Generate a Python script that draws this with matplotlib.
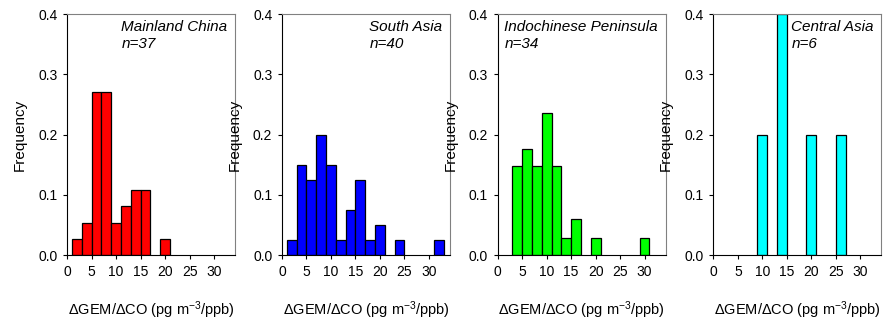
import numpy as np
import matplotlib
matplotlib.use('Agg')
import matplotlib.pyplot as plt
from matplotlib.ticker import FormatStrFormatter

plt.rcParams['font.family'] = ['Liberation Sans', 'DejaVu Sans']
plt.rcParams['font.size'] = 10
plt.rcParams['mathtext.default'] = 'regular'

regions = ['Mainland China', 'South Asia', 'Indochinese Peninsula', 'Central Asia']
counts_n = [37, 40, 34, 6]
colors = ['#ff0000', '#0000ff', '#00ff00', '#00ffff']

# bin centres (bin width 2) and relative frequencies
china_x = [2, 4, 6, 8, 10, 12, 14, 16, 20]
china_f = [0.027, 0.054, 0.270, 0.270, 0.054, 0.081, 0.108, 0.108, 0.027]

south_x = [2, 4, 6, 8, 10, 12, 14, 16, 18, 20, 24, 32]
south_f = [0.025, 0.150, 0.125, 0.200, 0.150, 0.025, 0.075, 0.125, 0.025, 0.050, 0.025, 0.025]

indo_x = [4, 6, 8, 10, 12, 14, 16, 20, 30]
indo_f = [0.147, 0.176, 0.147, 0.235, 0.147, 0.029, 0.059, 0.029, 0.029]

central_x = [10, 14, 20, 26]
central_f = [0.2, 0.4, 0.2, 0.2]

xs = [china_x, south_x, indo_x, central_x]
fs = [china_f, south_f, indo_f, central_f]

fig = plt.figure(figsize=(8.84, 3.2), dpi=100)
lefts = [0.076, 0.319, 0.563, 0.807]

for i in range(4):
    ax = fig.add_axes([lefts[i], 0.203, 0.190, 0.753])
    ax.bar(xs[i], fs[i], width=2, color=colors[i], edgecolor='black', linewidth=0.9)
    ax.set_xlim(0, 34.3)
    ax.set_ylim(0, 0.4)
    ax.set_xticks([0, 5, 10, 15, 20, 25, 30])
    ax.set_yticks([0.0, 0.1, 0.2, 0.3, 0.4])
    ax.yaxis.set_major_formatter(FormatStrFormatter('%.1f'))
    ax.tick_params(direction='out', length=3, width=0.8, labelsize=10, pad=4)
    for side in ['top', 'right']:
        ax.spines[side].set_color('#808080')
    ax.spines['left'].set_linewidth(0.8)
    ax.spines['bottom'].set_linewidth(0.8)
    ax.set_ylabel('Frequency', fontsize=11, labelpad=8)
    ax.set_xlabel('\u0394GEM/\u0394CO (pg m$^{-3}$/ppb)', fontsize=10.5, labelpad=15)
    ax.text(0.955, 0.975, regions[i] + '\nn=%d' % counts_n[i], transform=ax.transAxes,
            ha='right', va='top', multialignment='left', style='italic', fontsize=11,
            linespacing=1.25)

fig.savefig('out.png', dpi=100)
